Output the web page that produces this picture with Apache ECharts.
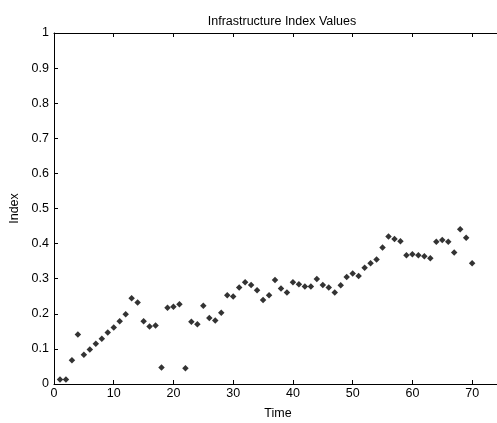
<!DOCTYPE html>
<html>
<head>
<meta charset="utf-8">
<script src="https://cdn.jsdelivr.net/npm/echarts@6/dist/echarts.min.js"></script>
<style>
html,body{margin:0;padding:0;background:#fff;}
#chart{width:497px;height:423px;}
</style>
</head>
<body>
<div id="chart"></div>
<script>
// Time steps and infrastructure index values
const timeSteps = [];
for (let t = 1; t <= 70; t++) timeSteps.push(t);
const indexValues = [
  0.013, 0.013, 0.068, 0.141, 0.083, 0.098, 0.115, 0.129, 0.147, 0.161,
  0.179, 0.199, 0.244, 0.232, 0.179, 0.164, 0.167, 0.047, 0.217, 0.220,
  0.227, 0.045, 0.177, 0.170, 0.223, 0.188, 0.181, 0.203, 0.253, 0.249,
  0.275, 0.290, 0.282, 0.267, 0.239, 0.253, 0.296, 0.272, 0.261, 0.290,
  0.284, 0.278, 0.278, 0.299, 0.282, 0.275, 0.261, 0.281, 0.305, 0.315,
  0.308, 0.331, 0.344, 0.355, 0.389, 0.420, 0.413, 0.407, 0.367, 0.370,
  0.367, 0.364, 0.358, 0.405, 0.410, 0.405, 0.375, 0.441, 0.417, 0.344
];
const points = timeSteps.map((t, i) => [t, indexValues[i]]);

const font = 'Liberation Sans, Arial, sans-serif';
const fs = 12.5;
const lineStyle = { color: '#000', width: 1 };
const chart = echarts.init(document.getElementById('chart'), null, { renderer: 'canvas' });

chart.setOption({
  animation: false,
  backgroundColor: '#fff',
  title: {
    text: 'Infrastructure Index Values',
    left: 277, top: 10, textAlign: 'center',
    textStyle: { fontFamily: font, fontSize: fs, fontWeight: 'normal', color: '#000' }
  },
  grid: { left: 54, top: 33, width: 448, height: 351, outerBoundsMode: 'none', containLabel: false },
  xAxis: [{
    type: 'value', min: 0, max: 75, interval: 10,
    name: 'Time', nameLocation: 'middle', nameGap: 23,
    nameTextStyle: { fontFamily: font, fontSize: fs, color: '#000' },
    axisLine: { show: true, lineStyle },
    axisTick: { show: true, inside: true, length: 4, lineStyle },
    axisLabel: { fontFamily: font, fontSize: fs, color: '#000', margin: 3, showMaxLabel: false },
    splitLine: { show: false }
  }, {
    type: 'value', min: 0, max: 75, interval: 10, position: 'top',
    axisLine: { show: true, onZero: false, lineStyle },
    axisTick: { show: true, inside: true, length: 4, lineStyle },
    axisLabel: { show: false },
    splitLine: { show: false }
  }],
  yAxis: [{
    type: 'value', min: 0, max: 1, interval: 0.1,
    name: 'Index', nameLocation: 'middle', nameGap: 31, nameRotate: 90,
    nameTextStyle: { fontFamily: font, fontSize: fs, color: '#000' },
    axisLine: { show: true, lineStyle },
    axisTick: { show: true, inside: true, length: 4, lineStyle },
    axisLabel: { fontFamily: font, fontSize: fs, color: '#000', margin: 5,
      formatter: v => String(Math.round(v * 10) / 10) },
    splitLine: { show: false }
  }, {
    type: 'value', min: 0, max: 1, interval: 0.1, position: 'right',
    axisLine: { show: true, onZero: false, lineStyle },
    axisTick: { show: true, inside: true, length: 4, lineStyle },
    axisLabel: { show: false },
    splitLine: { show: false }
  }],
  series: [{
    type: 'scatter',
    data: points,
    symbol: 'diamond',
    symbolSize: 6.5,
    itemStyle: { color: '#000' }
  }]
});
</script>
</body>
</html>
